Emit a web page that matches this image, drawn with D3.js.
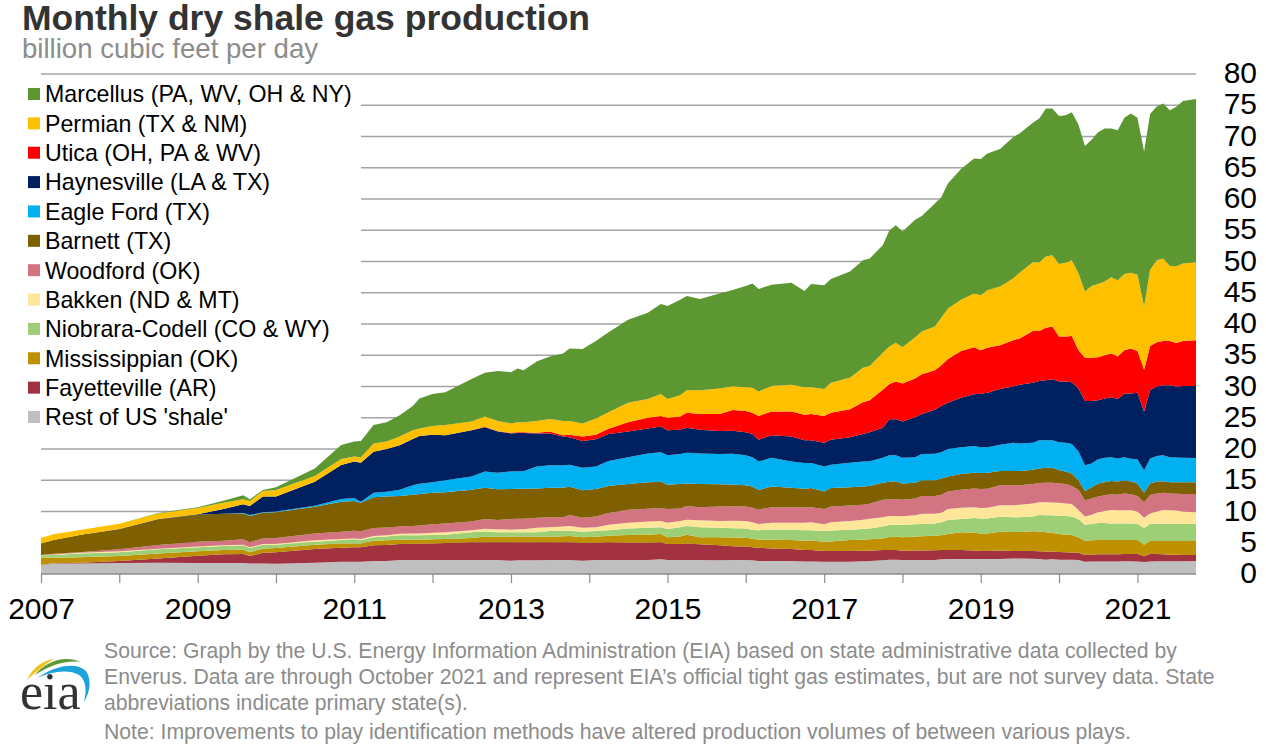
<!DOCTYPE html>
<html>
<head>
<meta charset="utf-8">
<script src="https://cdn.jsdelivr.net/npm/d3@7"></script>
<style>
  html, body { margin: 0; padding: 0; background: #fff; }
  svg { display: block; }
  text { font-family: "Liberation Sans", Arial, sans-serif; }
</style>
</head>
<body>
<svg width="1266" height="748"></svg>
<script>
"use strict";

const dates = ["2007-01","2007-03","2007-07","2008-01","2008-07","2009-01","2009-05","2009-08","2009-09","2009-11","2010-01","2010-07","2010-11","2011-01","2011-02","2011-04","2011-06","2011-08","2011-10","2011-11","2012-01","2012-03","2012-07","2012-09","2012-11","2013-01","2013-02","2013-03","2013-05","2013-07","2013-09","2013-10","2013-12","2014-02","2014-04","2014-07","2014-10","2014-12","2015-01","2015-03","2015-04","2015-06","2015-09","2015-11","2016-01","2016-02","2016-03","2016-05","2016-08","2016-10","2016-11","2017-01","2017-02","2017-05","2017-07","2017-08","2017-10","2017-11","2017-12","2018-01","2018-03","2018-04","2018-06","2018-07","2018-08","2018-10","2018-12","2019-01","2019-02","2019-04","2019-06","2019-07","2019-09","2019-10","2019-11","2019-12","2020-01","2020-02","2020-03","2020-04","2020-05","2020-06","2020-07","2020-08","2020-09","2020-10","2020-11","2020-12","2021-01","2021-02","2021-03","2021-04","2021-05","2021-06","2021-07","2021-08","2021-10"];

// production per play, billion cubic feet per day
const rest = [1.45,1.7,1.7,1.75,1.8,1.76,1.76,1.76,1.7,1.7,1.65,1.8,1.97,1.97,1.97,2.08,2.08,2.24,2.24,2.24,2.24,2.24,2.24,2.24,2.24,2.13,2.2,2.2,2.2,2.24,2.24,2.24,2.13,2.24,2.24,2.24,2.24,2.35,2.24,2.24,2.24,2.24,2.2,2.24,2.24,2.2,2.1,2.1,2.1,2,2,1.95,1.95,1.97,2.05,2.1,2.2,2.3,2.3,2.25,2.25,2.25,2.25,2.35,2.4,2.4,2.4,2.4,2.4,2.4,2.5,2.5,2.45,2.4,2.3,2.4,2.3,2.3,2.3,2.25,1.97,2,2,2,2,2,2.05,2.05,2,1.92,2,2.05,2.05,2.05,2.05,2.05,2.08];
const fayetteville = [.05,.02,.1,.35,.7,1.17,1.39,1.44,1.2,1.7,1.82,2.2,2.23,2.33,2.33,2.52,2.56,2.56,2.61,2.61,2.66,2.71,2.83,2.83,2.83,2.94,2.9,2.9,2.9,2.83,2.86,2.86,2.87,2.76,2.83,2.76,2.76,2.72,2.56,2.56,2.66,2.51,2.4,2.2,2.16,2.1,2.1,2,1.9,1.85,1.85,1.73,1.75,1.73,1.67,1.63,1.64,1.54,1.54,1.48,1.5,1.5,1.55,1.49,1.44,1.44,1.35,1.3,1.3,1.35,1.2,1.18,1.23,1.25,1.3,1.2,1.22,1.2,1.15,1.16,1.07,1.1,1.15,1.15,1.15,1.15,1.15,1.15,1.2,.96,1.2,1.15,1.1,1.05,1.05,1,.96];
const mississippian = [1.15,.88,.87,.8,.8,.7,.69,.7,.6,.65,.69,.7,.7,.6,.6,.73,.76,.7,.65,.65,.65,.65,.69,.9,.9,.93,.9,.9,.9,.9,.95,1,.87,.97,1.06,1.24,1.3,1.33,1.1,1.2,1.4,1.15,1.3,1.4,1.4,1.35,1.3,1.4,1.45,1.48,1.5,1.49,1.5,1.74,1.78,1.82,1.86,2.08,2.11,2.17,2.25,2.3,2.33,2.36,2.56,2.83,2.85,2.8,2.8,3.02,3.02,3.04,3.17,3.15,3.1,3,2.88,2.8,2.79,2.46,2.29,2.3,2.29,2.29,2.29,2.29,2.24,2.24,2.24,1.82,2.08,2.1,2.15,2.2,2.2,2.23,2.24];
const niobrara = [.35,.44,.63,.6,.65,.67,.64,.7,.66,.65,.54,.47,.54,.65,.54,.54,.6,.7,.7,.7,.69,.7,.94,.83,.7,.67,.7,.7,.7,.91,.85,.83,.9,.93,.87,1.06,1.1,1.1,1.3,1.5,1.4,1.6,1.5,1.5,1.5,1.45,1.5,1.6,1.65,1.67,1.65,1.73,1.75,1.66,1.7,1.75,1.9,1.92,1.95,1.95,1.95,1.95,1.97,2.1,2.24,2.13,2.36,2.4,2.4,2.4,2.35,2.35,2.35,2.64,2.7,2.8,2.9,3,2.96,2.88,2.57,2.6,2.72,2.71,2.66,2.66,2.66,2.66,2.61,2.66,2.77,2.75,2.75,2.75,2.75,2.72,2.72];
const bakken = [.03,.08,.1,.13,.1,.1,.12,.1,.14,.1,.15,.23,.16,.15,.16,.21,.2,.25,.3,.3,.36,.4,.3,.45,.48,.43,.45,.45,.7,.62,.7,.77,.63,.6,.9,.9,1,1,1,1,1,1.1,1.1,1.2,1.2,1.2,1,1.1,1.1,1.2,1.3,1.05,1.35,1.4,1.5,1.55,1.5,1.46,1.4,1.4,1.45,1.65,1.55,1.5,1.76,1.8,1.74,1.65,1.7,1.83,1.93,2.03,2.1,2.06,2.1,2.05,2.1,2,2,1.49,1.3,1.5,1.74,1.95,2.14,2.1,2.1,2.1,1.95,1.64,1.65,1.95,2.19,2.15,2.1,2,1.9];
const woodford = [.02,.13,.1,.32,.59,.77,.73,.85,.8,.9,.91,1.1,1.17,1.23,1.23,1.28,1.25,1.15,1.2,1.25,1.35,1.4,1.4,1.55,1.49,1.7,1.7,1.7,1.6,1.6,1.5,1.74,1.6,1.7,1.86,2.1,2.05,2.06,2.2,2,2.2,2.1,2.3,2.3,2.3,2.3,2.3,2.5,2.5,2.47,2.37,2.45,2.5,2.45,2.4,2.4,2.8,2.65,2.7,2.65,2.7,2.85,2.85,2.9,2.8,2.9,3,3.05,3.05,3.2,3.2,3.1,3.1,3.06,3.1,3.15,3.1,3.1,2.9,3.2,2.6,2.6,2.5,2.5,2.51,2.5,2.7,2.55,2.5,2.5,2.94,2.9,2.76,2.7,2.7,2.8,2.9];
const barnett = [1.85,2.19,2.74,3.2,4.11,4.33,4.32,4.15,4.2,4.1,4.14,4.27,4.8,4.75,4.57,4.91,4.95,4.9,5,5.05,5.05,5,5.1,5,4.91,4.8,4.8,4.8,4.7,4.7,4.7,4.53,4.4,4.4,4.34,4.1,4.25,4.21,3.9,3.9,3.6,3.7,3.55,3.5,3.4,3.4,3.15,3.3,3.1,2.98,3.08,2.8,2.96,2.92,2.9,2.85,2.7,2.8,2.83,2.6,2.5,2.5,2.5,2.6,2.4,2.5,2.5,2.55,2.55,2.3,2.3,2.3,2.3,2.34,2.4,2.4,2.1,2,2,1.56,1.5,1.8,2.1,2.1,2.15,2.1,2.1,2.05,2,1.5,1.86,1.9,1.85,1.8,1.85,1.9,1.9];
const eagleFord = [0,0,0,0,0,0,0,.05,.14,.07,.1,.16,.45,.5,.17,.73,.77,1,1.5,1.65,1.7,1.9,2.1,2.6,2.65,2.8,2.8,2.8,3.5,3.6,3.6,3.53,3.6,3.6,4,4.3,4.6,4.73,4.7,4.8,4.9,4.9,4.85,4.9,4.8,4.7,4.55,4.6,4.2,4.11,4.01,4,3.74,3.93,4,3.95,4,4.25,4.17,4.1,4.1,4.2,4.25,4.2,4.4,4.3,4.3,4.15,4.1,4.2,4.5,4.4,4.3,4.5,4.4,4.4,4.5,4.6,4.7,4.6,4.1,3.8,3.85,3.9,3.8,3.7,3.7,3.65,3.85,3.6,4,4.1,4.15,4,3.95,3.9,3.85];
const haynesville = [0,0,0,.05,.05,.05,.75,1.4,1.46,2.53,2.4,3.84,5.42,5.82,6.23,6.57,6.83,7.1,7.4,7.65,7.6,7.2,7.4,7.1,6.6,6.1,6.1,6.1,5.3,5.1,4.6,4.4,4.3,4.35,4.3,4.1,4,4.1,4,3.9,4,3.8,3.7,3.7,3.7,3.7,3.5,3.6,4,3.64,3.64,3.8,4,4.1,4.4,4.65,4.8,5.75,5.75,5.8,6.4,6.4,7.05,7.4,7.4,7.9,8.25,8.55,8.7,8.9,9,9.4,9.6,9.5,9.6,9.75,9.7,9.8,9.9,10.1,10.3,10,9.45,9.5,9.6,9.5,10.15,10.45,10.65,9.4,10.9,11.1,11.2,11.5,11.3,11.5,11.55];
const utica = [0,0,0,0,0,0,0,0,0,0,0,0,0,0,0,0,0,0,0,0,0,0,0,.05,.05,.1,.15,.15,.1,.3,.2,.4,.7,.75,.85,1.5,1.7,1.7,2,2.1,2.4,2.5,2.7,3.3,3.4,3.4,3.8,3.8,4,4.1,4.2,4.3,4.3,4.45,5.1,5.1,6.1,5.65,6.05,6.1,6.2,6.35,6.3,6.5,7,7.5,7.55,6.95,7.2,7,7.4,7.4,8.3,8,8.4,8.45,7.2,7.2,7.4,6.1,6.9,6.9,6.9,6.9,7,6.8,6.95,7.2,6.7,6.7,7.1,7.1,7.1,7.1,7,7.2,7.3];
const permian = [.85,.91,.8,.85,.9,1.01,1,.8,.8,.9,1.04,.93,.96,.8,.87,1.33,1.2,1.4,1.4,1.2,1.4,1.65,1.4,1.65,1.65,1.5,1.6,1.6,1.9,2,2.3,2.2,2.1,2.6,2.65,3.1,3,3.5,3,3.4,3.6,3.8,4.1,3.8,3.8,4,3.9,4.1,4.3,4.4,4.3,4.3,4.8,5.05,5.5,5.5,5.9,6,6.2,5.8,6.6,6.85,7,7.6,8.1,8.2,8.6,8.8,9.2,9.4,9.9,10.5,11,11,11.4,11.4,11.6,11.8,12.1,12.3,10.6,11.5,11.7,11.8,12.2,12.2,12.2,12.1,12.2,10.1,12.2,13.1,13.2,12,12.3,12.4,12.5];
const marcellus = [0,0,0,0,.06,.14,.33,.65,.25,.14,.43,1.2,2.24,2.4,2.63,2.94,3.1,3.4,3.9,4.8,5.1,5.25,6.8,7,8,8.2,8.6,8.3,9.5,10,10.8,11.6,11.9,12.4,12.8,13.3,13.8,14.4,14.9,15.3,15.1,14.6,15.2,15.4,16.2,16.7,16.4,16.2,16.3,15.4,16.5,16.6,16.6,17,17.2,17.2,17.2,18.6,18.8,18.5,18.8,18.5,19.7,19.3,20,20.9,21.6,21.8,21.9,22,22.6,22.3,22.3,23,23.7,23.5,23.7,23.6,23.7,23.8,23.3,23.4,24.3,24.5,23.8,24,25,25.5,25.1,24.8,24.9,24.6,24.8,24.9,25.5,26,26.1];

// legend order, top to bottom
const seriesNames = ["Marcellus (PA, WV, OH & NY)","Permian (TX & NM)","Utica (OH, PA & WV)","Haynesville (LA & TX)","Eagle Ford (TX)","Barnett (TX)","Woodford (OK)","Bakken (ND & MT)","Niobrara-Codell (CO & WY)","Mississippian (OK)","Fayetteville (AR)","Rest of US 'shale'"];
const seriesColors = ["#5d9732","#ffc000","#ff0000","#002060","#00b0f0","#7f6000","#d37483","#ffe699","#9dd076","#bf9000","#a2323f","#bfbfbf"];
const seriesValues = [marcellus,permian,utica,haynesville,eagleFord,barnett,woodford,bakken,niobrara,mississippian,fayetteville,rest];

const yTicks = d3.range(0, 85, 5);
const footerLines = [
  "Source: Graph by the U.S. Energy Information Administration (EIA) based on state administrative data collected by",
  "Enverus. Data are through October 2021 and represent EIA\u2019s official tight gas estimates, but are not survey data. State",
  "abbreviations indicate primary state(s).",
  "Note: Improvements to play identification methods have altered production volumes of between various plays."
];

const svg = d3.select("svg");
const parseMonth = d3.utcParse("%Y-%m");

const x = d3.scaleUtc()
  .domain([parseMonth("2007-01"), parseMonth("2021-10")])
  .range([41, 1196]);
const y = d3.scaleLinear().domain([0, 80]).range([574, 74]);

// rows for d3.stack: bottom band first
const keys = seriesNames.slice().reverse();
const rows = dates.map((d, i) => {
  const row = { date: parseMonth(d) };
  seriesNames.forEach((name, s) => { row[name] = seriesValues[s][i]; });
  return row;
});
const stacked = d3.stack().keys(keys)(rows);

// title block
svg.append("text").attr("x", 22).attr("y", 30)
  .style("font-size", "35.5px").style("font-weight", "bold").style("fill", "#333333")
  .text("Monthly dry shale gas production");
svg.append("text").attr("x", 22).attr("y", 58)
  .style("font-size", "27.6px").style("fill", "#8c8c8c")
  .text("billion cubic feet per day");

// gridlines and value labels
const yAxis = d3.axisRight(y).tickValues(yTicks).tickSize(0).tickFormat(d3.format("d"));
const yG = svg.append("g").attr("transform", "translate(1257,-1)").call(yAxis);
yG.select(".domain").remove();
yG.selectAll("text")
  .attr("x", 0).attr("text-anchor", "end")
  .style("font-family", '"Liberation Sans", Arial, sans-serif')
  .style("font-size", "30px").style("fill", "#000");

svg.append("g").selectAll("line")
  .data(yTicks.filter(d => d > 0))
  .join("line")
  .attr("x1", x.range()[0]).attr("x2", x.range()[1])
  .attr("y1", d => y(d)).attr("y2", d => y(d))
  .style("stroke", "#a3a3a3").style("stroke-width", "1.4px");

// stacked areas
const area = d3.area()
  .x(d => x(d.data.date))
  .y0(d => y(d[0]))
  .y1(d => y(d[1]));

svg.append("g").selectAll("path")
  .data(stacked)
  .join("path")
  .attr("d", area)
  .style("fill", d => seriesColors[seriesNames.indexOf(d.key)]);

// time axis: a tick each year, a label every second year
const xAxis = d3.axisBottom(x)
  .tickValues(d3.utcYear.range(parseMonth("2007-01"), parseMonth("2022-01")))
  .tickSize(9).tickPadding(15)
  .tickFormat(d => d.getUTCFullYear() % 2 ? d.getUTCFullYear() : "");
const xG = svg.append("g").attr("transform", "translate(0,574)").call(xAxis);
xG.select(".domain").attr("d", `M${x.range()[0]},0H${x.range()[1]}`)
  .style("stroke", "#8c8c8c").style("stroke-width", "1.4px");
xG.selectAll("line").style("stroke", "#8c8c8c").style("stroke-width", "1.2px");
xG.selectAll("text")
  .style("font-family", '"Liberation Sans", Arial, sans-serif')
  .style("font-size", "30px").style("fill", "#000");

// legend sits on a white box that hides the gridlines
svg.append("rect").attr("x", 24).attr("y", 81).attr("width", 337).attr("height", 350).style("fill", "#fff");
const legendY = d3.scalePoint().domain(seriesNames).range([94, 417]);
const legend = svg.append("g").selectAll("g")
  .data(seriesNames)
  .join("g")
  .attr("transform", d => `translate(28,${legendY(d)})`);
legend.append("rect")
  .attr("x", 0).attr("y", -6).attr("width", 12).attr("height", 12)
  .style("fill", (d, i) => seriesColors[i]);
legend.append("text")
  .attr("x", 17).attr("dy", "0.36em")
  .style("font-size", "23.2px").style("fill", "#000")
  .text(d => d);

// footer
const footerY = [658, 684, 710, 739];
svg.append("g").selectAll("text")
  .data(footerLines)
  .join("text")
  .attr("x", 104).attr("y", (d, i) => footerY[i])
  .style("font-size", "21.2px").style("fill", "#8c8c8c")
  .text(d => d);

// eia logo
const logo = svg.append("g");
logo.append("path").attr("d", "M27,680 C32,669 42,660 54,659 C45,664 36,672 27,680 Z").style("fill", "#f2c21b");
logo.append("path").attr("d", "M35,675 C46,661 65,655 81,662 C66,660 50,665 35,675 Z").style("fill", "#5d9732");
logo.append("path").attr("d", "M37,678 C54,666 76,661 86,671 C92,680 90,692 84,702 C87,690 86,680 79,675 C69,669 52,671 37,678 Z").style("fill", "#1ba3dc");
logo.append("text").attr("x", 20).attr("y", 709)
  .style("font-family", '"Liberation Serif", serif').style("font-size", "52px").style("fill", "#333333")
  .text("eia");
</script>
</body>
</html>
